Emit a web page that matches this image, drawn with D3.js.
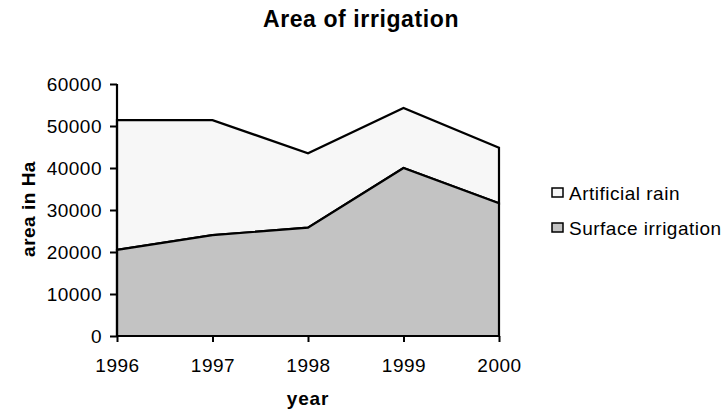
<!DOCTYPE html>
<html>
<head>
<meta charset="utf-8">
<script src="https://cdn.jsdelivr.net/npm/d3@7"></script>
<style>
  body { margin: 0; background: #fff; }
  svg { font-family: "Liberation Sans", Arial, sans-serif; }
</style>
</head>
<body>
<svg id="chart" width="727" height="413"></svg>
<script>
// data
var years = ["1996", "1997", "1998", "1999", "2000"];
var surface = [20500, 24000, 25800, 40000, 31600];
var artificialRain = [30900, 27400, 17700, 14300, 13200];
var yTicks = [0, 10000, 20000, 30000, 40000, 50000, 60000];
var seriesNames = ["Surface irrigation", "Artificial rain"];
var seriesColors = ["#c3c3c3", "#f7f7f7"];

var svg = d3.select("#chart");

var x = d3.scalePoint().domain(years).range([117, 499]);
var y = d3.scaleLinear().domain([0, 60000]).range([336, 84]);

var rows = years.map(function(yr, i) {
    return { year: yr, "Surface irrigation": surface[i], "Artificial rain": artificialRain[i] };
});

var stack = d3.stack().keys(seriesNames);
var layers = stack(rows);

var area = d3.area()
    .x(function(d) { return x(d.data.year); })
    .y0(function(d) { return y(d[0]); })
    .y1(function(d) { return y(d[1]); });

// draw top layer first so borders of lower layer sit on top
svg.append("g").selectAll("path")
    .data(layers.slice().reverse())
    .enter().append("path")
    .attr("d", area)
    .style("fill", function(d) { return seriesColors[d.index]; })
    .style("stroke", "#000")
    .style("stroke-width", 2.2)
    .style("stroke-linejoin", "miter");

// axes
var yAxis = d3.axisLeft(y).tickValues(yTicks).tickSize(7).tickPadding(8).tickFormat(d3.format("d"));
var xAxis = d3.axisBottom(x).tickSize(6).tickPadding(17);

var gy = svg.append("g").attr("transform", "translate(117,0)").call(yAxis);
var gx = svg.append("g").attr("transform", "translate(0,336)").call(xAxis);

[gy, gx].forEach(function(g) {
    g.select(".domain").attr("stroke", "#000").attr("stroke-width", 2.2);
    g.selectAll(".tick line").attr("stroke", "#000").attr("stroke-width", 2);
    g.selectAll(".tick text")
        .attr("fill", "#000")
        .style("font-size", "19px")
        .style("letter-spacing", "0.5px")
        .style("font-family", "Liberation Sans, Arial, sans-serif");
});
gy.select(".domain").attr("d", "M0,84V336");
gx.select(".domain").attr("d", "M117,0H499");

// titles
svg.append("text")
    .attr("x", 361).attr("y", 27)
    .attr("text-anchor", "middle")
    .style("font-size", "23px").style("font-weight", "bold")
    .style("letter-spacing", "0.6px")
    .text("Area of irrigation");

svg.append("text")
    .attr("x", 308).attr("y", 405)
    .attr("text-anchor", "middle")
    .style("font-size", "19px").style("font-weight", "bold")
    .style("letter-spacing", "0.8px")
    .text("year");

svg.append("text")
    .attr("transform", "translate(35,209) rotate(-90)")
    .attr("text-anchor", "middle")
    .style("font-size", "19px").style("font-weight", "bold")
    .style("letter-spacing", "0.5px")
    .text("area in Ha");

// legend (Artificial rain listed first)
var legendItems = [
    { name: seriesNames[1], color: seriesColors[1] },
    { name: seriesNames[0], color: seriesColors[0] }
];
var legend = svg.append("g").selectAll("g")
    .data(legendItems)
    .enter().append("g")
    .attr("transform", function(d, i) { return "translate(552," + (188 + i * 35) + ")"; });

legend.append("rect")
    .attr("width", 11).attr("height", 9)
    .style("fill", function(d) { return d.color; })
    .style("stroke", "#000").style("stroke-width", 1.5);

legend.append("text")
    .attr("x", 17).attr("y", 12)
    .style("font-size", "19px")
    .style("letter-spacing", "0.5px")
    .text(function(d) { return d.name; });
</script>
</body>
</html>
